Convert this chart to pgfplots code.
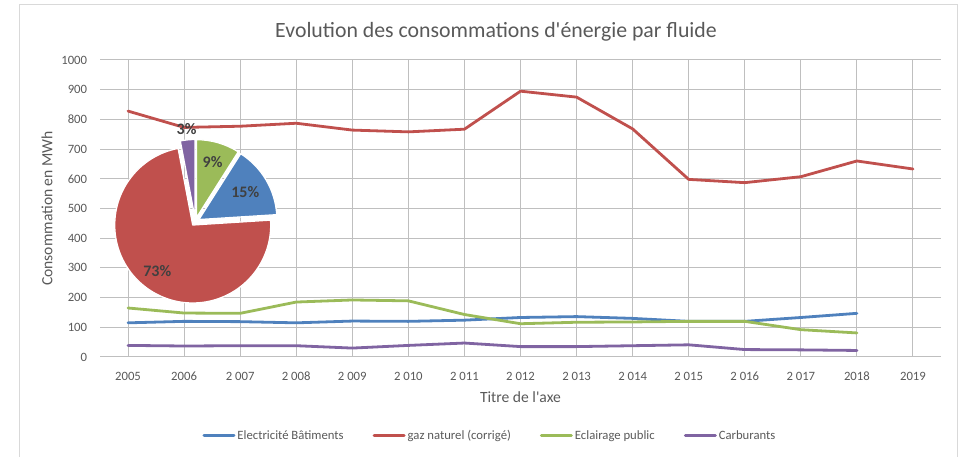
\documentclass[border=0pt]{standalone}
\usepackage{pgfplots}
\pgfplotsset{compat=1.18}
\usepackage{fontspec}
\setmainfont{Carlito}[Ligatures=TeXOff]
\definecolor{cblue}{HTML}{4F81BD}
\definecolor{cred}{HTML}{C0504D}
\definecolor{cgreen}{HTML}{9BBB59}
\definecolor{cpurple}{HTML}{8064A2}
\definecolor{txt}{HTML}{595959}
\definecolor{grid}{HTML}{D9D9D9}
\definecolor{lbl}{HTML}{404040}
\begin{document}
\begin{tikzpicture}
\path[use as bounding box] (0,0) rectangle (962pt,457pt);
\draw[grid, line width=1pt] (19.5pt,-5pt) -- (19.5pt,452pt) -- (957pt,452pt) -- (957pt,-5pt);
\begin{axis}[
  at={(100pt,100pt)}, anchor=south west,
  scale only axis, width=841pt, height=297pt,
  xmin=-0.5, xmax=14.5, ymin=0, ymax=1000,
  xtick={0,...,14},
  xticklabels={2005,2006,2 007,2 008,2 009,2 010,2 011,2 012,2 013,2 014,2 015,2 016,2 017,2018,2019},
  ytick={0,100,...,1000},
  /pgf/number format/assume math mode=true,
  /pgf/number format/1000 sep={},
  major tick length=0pt,
  axis line style={draw=none},
  ymajorgrids, grid style={grid, line width=1pt},
  xticklabel style={font=\fontsize{12.7}{15}\selectfont, text=txt, anchor=center, inner sep=0pt, yshift=-19pt},
  yticklabel style={font=\fontsize{12.7}{15}\selectfont, text=txt, anchor=east, inner sep=0pt, xshift=-12.7pt},
  title={Evolution des consommations d'énergie par fluide},
  title style={font=\fontsize{21.8}{26}\selectfont, text=txt, at={(axis description cs:0.4709,1.074)}, anchor=center},
  ylabel={Consommation en MWh},
  ylabel style={font=\fontsize{15.6}{18}\selectfont, text=txt, at={(axis description cs:-0.063,0.5)}, anchor=center, rotate=0},
  xlabel={Titre de l'axe},
  xlabel style={font=\fontsize{15.6}{18}\selectfont, text=txt, at={(axis description cs:0.5,-0.1347)}, anchor=center},
  legend columns=4,
  legend style={draw=none, fill=none, at={(axis description cs:0.4637,-0.266)}, anchor=center,
    font=\fontsize{12.7}{15}\selectfont, text=txt, /tikz/every even column/.append style={column sep=27pt}},
  legend cell align=left,
  legend image code/.code={\draw[#1, line width=3pt] (0pt,0pt) -- (30pt,0pt);},
  every axis plot/.append style={line width=2.8pt, line join=round, line cap=round, mark=none},
]
\addplot[cblue] coordinates {(0,115)(1,120)(2,119)(3,115)(4,121)(5,120)(6,124)(7,133)(8,136)(9,130)(10,120)(11,120)(12,133)(13,147)};
\addlegendentry{Electricité Bâtiments}
\addplot[cred] coordinates {(0,828)(1,773)(2,777)(3,787)(4,764)(5,758)(6,767)(7,895)(8,875)(9,768)(10,598)(11,587)(12,607)(13,660)(14,633)};
\addlegendentry{gaz naturel (corrigé)}
\addplot[cgreen] coordinates {(0,165)(1,148)(2,147)(3,185)(4,192)(5,189)(6,143)(7,112)(8,117)(9,118)(10,120)(11,120)(12,92)(13,81)};
\addlegendentry{Eclairage public}
\addplot[cpurple] coordinates {(0,39)(1,37)(2,38)(3,38)(4,30)(5,39)(6,47)(7,35)(8,35)(9,38)(10,41)(11,25)(12,24)(13,22)};
\addlegendentry{Carburants}
\end{axis}
% pie of shares (percent)
\coordinate (pc) at (195.3pt,235.3pt);
\xdef\angstart{90}
\foreach \v/\col/\lr in {9/cgreen/62,15/cblue/58,73/cred/62,3/cpurple/93} {
  \pgfmathsetmacro\ae{\angstart-3.6*\v}
  \pgfmathsetmacro\am{(\angstart+\ae)/2}
  \fill[\col, draw=white, line width=1.3pt, line join=round]
    ([shift={(\am:4.2pt)}]pc) -- ++(\angstart:78pt) arc[start angle=\angstart, end angle=\ae, radius=78pt] -- cycle;
  \node[font=\fontsize{16}{19}\selectfont\bfseries, text=lbl] at ([shift={(\am:\lr pt)}]pc) {\v\%};
  \xdef\angstart{\ae}
}
\end{tikzpicture}
\end{document}
